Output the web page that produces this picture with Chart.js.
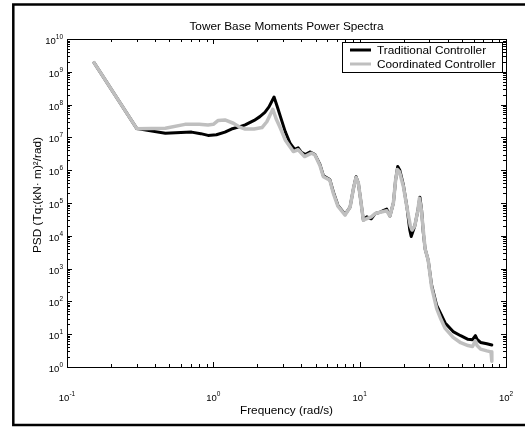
<!DOCTYPE html>
<html><head><meta charset="utf-8">
<script src="https://cdn.jsdelivr.net/npm/chart.js@4/dist/chart.umd.min.js"></script>
<style>html,body{margin:0;padding:0;background:#fff;}#wrap{width:525px;height:427px;position:relative;}</style>
</head><body><div id="wrap"><canvas id="c" width="525" height="427"></canvas></div>
<script>
const chartTitle = 'Tower Base Moments Power Spectra';
const xTitle = 'Frequency (rad/s)';
const yTitle = 'PSD (Tq:(kN\u00B7 m)\u00B2/rad)';
const seriesNames = ['Traditional Controller', 'Coordinated Controller'];
const xTickExponents = [-1, 0, 1, 2];
const yTickExponents = [0, 1, 2, 3, 4, 5, 6, 7, 8, 9, 10];

const tradFreq = [0.153,0.30,0.47,0.6,0.71,0.82,0.92,1.05,1.2,1.33,1.5,1.65,1.9,2.08,2.25,2.4,2.6,2.75,2.9,3.1,3.35,3.6,3.8,4.0,4.25,4.6,4.95,5.35,5.65,6.25,6.6,7.1,7.95,8.6,9.1,9.45,9.8,10.1,10.6,11.2,12.0,12.8,13.8,14.6,15.3,16.1,17,17.6,18.2,18.8,19.9,21,22.0,22.5,23.8,25.0,25.8,26.5,27.2,28.0,29.4,31,33.6,36,38.4,43.5,49,55,59,61.8,63.5,67,74,80];
const tradPSD = [1.9e9,1.85e7,1.33e7,1.4e7,1.45e7,1.3e7,1.15e7,1.2e7,1.45e7,1.8e7,2.1e7,2.4e7,3.3e7,4.3e7,5.8e7,8.5e7,1.7e8,8e7,3.8e7,1.5e7,6.5e6,4.3e6,4.8e6,3.5e6,3.0e6,3.6e6,3.0e6,1.5e6,6.8e5,5.2e5,2.2e5,8.5e4,4.5e4,7.5e4,3e5,6.3e5,4e5,1.5e5,3e4,3.8e4,3.3e4,4.8e4,5.2e4,6e4,6.5e4,4e4,1e5,5e5,1.3e6,1e6,3.5e5,8e4,1.5e4,9.5e3,2e4,6e4,1.5e5,6e4,1.3e4,4e3,1.8e3,320,75,40,22,12,9,7,6.8,9,7,5.6,5.1,4.7];

const coordFreq = [0.153,0.30,0.47,0.64,0.8,0.92,1.0,1.08,1.2,1.37,1.5,1.65,1.9,2.15,2.32,2.45,2.55,2.7,2.86,3.1,3.52,3.8,4.2,4.7,4.95,5.35,5.65,6.25,6.6,7.1,7.95,8.6,9.1,9.45,9.8,10.1,10.6,11.3,12.0,12.8,13.8,15.3,16.1,17,17.6,18.1,18.7,19.9,21,22.2,22.8,23.8,25.0,25.6,26.3,27.2,28.0,29.4,31,33.6,36,38.4,43.5,49,55,59,61.8,63.5,67,74,79,80];
const coordPSD = [1.9e9,1.85e7,1.9e7,2.5e7,2.5e7,2.4e7,2.5e7,3.3e7,3.4e7,2.7e7,2.1e7,1.8e7,1.8e7,2e7,3e7,5e7,7.2e7,3.5e7,2e7,8.4e6,3.7e6,4.2e6,2.6e6,3.3e6,2.9e6,1.4e6,6.3e5,5e5,2e5,8e4,4.3e4,7.5e4,3e5,6e5,4e5,1.5e5,3e4,3.4e4,3.8e4,4.8e4,5.2e4,5.8e4,4e4,1e5,5e5,1.05e6,9e5,3.2e5,7.7e4,2e4,1.5e4,2e4,6e4,1.4e5,7e4,1.5e4,4e3,1.8e3,280,60,28,15,8,5.5,4.5,4.2,6.3,4.5,3.5,3.1,2.9,1.5];

const FONT = '"Liberation Sans", Arial, Helvetica, sans-serif';
const toPts = (xs, ys) => xs.map((v, i) => ({x: v, y: ys[i]}));

function drawPow(ctx, exp, x, y, align, baseSize, expSize, expRise) {
  const base = '10', e = String(exp);
  ctx.font = baseSize + 'px ' + FONT;
  const wb = ctx.measureText(base).width;
  ctx.font = expSize + 'px ' + FONT;
  const we = ctx.measureText(e).width;
  let sx = align === 'center' ? x - (wb + we) / 2 : x - (wb + we);
  ctx.textAlign = 'left';
  ctx.textBaseline = 'alphabetic';
  ctx.font = baseSize + 'px ' + FONT;
  ctx.fillText(base, sx, y);
  ctx.font = expSize + 'px ' + FONT;
  ctx.fillText(e, sx + wb, y - expRise);
}

const decor = {
  id: 'decor',
  afterDraw(chart) {
    const {ctx, chartArea: a, scales: {x, y}} = chart;
    ctx.save();
    ctx.fillStyle = '#000';
    ctx.strokeStyle = '#000';
    // outer figure frame
    ctx.lineWidth = 2.5;
    ctx.beginPath();
    ctx.moveTo(525, 4.5);
    ctx.lineTo(13.3, 4.5);
    ctx.lineTo(13.3, 425);
    ctx.lineTo(525, 425);
    ctx.stroke();
    // plot box
    ctx.lineWidth = 1;
    ctx.strokeRect(a.left + 0.5, a.top + 0.5, a.right - a.left, a.bottom - a.top);
    // ticks
    ctx.beginPath();
    for (let d = -1; d <= 2; d++) {
      for (let m = 1; m <= 9; m++) {
        const v = m * Math.pow(10, d);
        if (v < x.min - 1e-12 || v > x.max + 1e-9) continue;
        const px = Math.round(x.getPixelForValue(v)) + 0.5;
        const len = m === 1 ? 5 : 3;
        ctx.moveTo(px, a.bottom); ctx.lineTo(px, a.bottom - len);
        ctx.moveTo(px, a.top); ctx.lineTo(px, a.top + len);
      }
    }
    for (let d = 0; d <= 10; d++) {
      for (let m = 1; m <= 9; m++) {
        const v = m * Math.pow(10, d);
        if (v < y.min || v > y.max * 1.0001) continue;
        const py = Math.round(y.getPixelForValue(v)) + 0.5;
        const len = m === 1 ? 5 : 3;
        ctx.moveTo(a.left, py); ctx.lineTo(a.left + len, py);
        ctx.moveTo(a.right, py); ctx.lineTo(a.right - len, py);
      }
    }
    ctx.stroke();
    // tick labels
    xTickExponents.forEach(e => {
      const px = x.getPixelForValue(Math.pow(10, e));
      drawPow(ctx, e, px, 401, 'center', 9.5, 6.5, 5);
    });
    yTickExponents.forEach(e => {
      const py = y.getPixelForValue(Math.pow(10, e));
      drawPow(ctx, e, 63, py + 5, 'right', 9.5, 6.5, 5);
    });
    // titles
    ctx.font = '11.8px ' + FONT;
    ctx.textAlign = 'center';
    ctx.textBaseline = 'alphabetic';
    ctx.fillText(chartTitle, (a.left + a.right) / 2, 30);
    ctx.fillText(xTitle, (a.left + a.right) / 2, 413.5);
    ctx.save();
    ctx.translate(41, 195);
    ctx.rotate(-Math.PI / 2);
    ctx.fillText(yTitle, 0, 0);
    ctx.restore();
    // legend
    const lx = 342.5, ly = 42.5, lw = 160, lh = 30;
    ctx.fillStyle = '#fff';
    ctx.fillRect(lx, ly, lw, lh);
    ctx.strokeStyle = '#000';
    ctx.lineWidth = 1;
    ctx.strokeRect(lx, ly, lw, lh);
    const rows = [[chart.data.datasets[0], 50], [chart.data.datasets[1], 64]];
    rows.forEach(([ds, ry]) => {
      ctx.strokeStyle = ds.borderColor;
      ctx.lineWidth = 3;
      ctx.beginPath();
      ctx.moveTo(350, ry); ctx.lineTo(371, ry);
      ctx.stroke();
      ctx.fillStyle = '#000';
      ctx.font = '11.8px ' + FONT;
      ctx.textAlign = 'left';
      ctx.fillText(ds.label, 377, ry + 4.3);
    });
    ctx.restore();
  }
};

new Chart(document.getElementById('c'), {
  type: 'line',
  data: {
    datasets: [
      {label: seriesNames[0], data: toPts(tradFreq, tradPSD), borderColor: '#000000', borderWidth: 3, pointRadius: 0, tension: 0, order: 2, borderJoinStyle: 'round', borderCapStyle: 'round'},
      {label: seriesNames[1], data: toPts(coordFreq, coordPSD), borderColor: '#bfbfbf', borderWidth: 3.5, pointRadius: 0, tension: 0, order: 1, borderJoinStyle: 'round', borderCapStyle: 'round'}
    ]
  },
  options: {
    responsive: false,
    animation: false,
    devicePixelRatio: 1,
    layout: {padding: {left: 67, top: 39, right: 19, bottom: 60}},
    plugins: {legend: {display: false}, title: {display: false}, tooltip: {enabled: false}},
    events: [],
    scales: {
      x: {type: 'logarithmic', min: 0.1, max: 100, display: false},
      y: {type: 'logarithmic', min: 1, max: 1e10, display: false}
    }
  },
  plugins: [decor]
});
</script>
</body></html>
